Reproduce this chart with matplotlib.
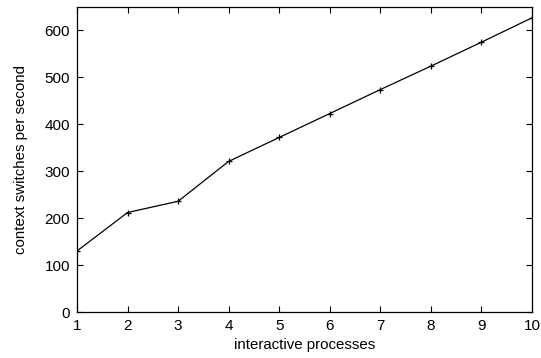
import matplotlib
matplotlib.use("Agg")
import matplotlib.pyplot as plt

plt.rcParams['font.family'] = ['Liberation Sans', 'DejaVu Sans']

processes = [1, 2, 3, 4, 5, 6, 7, 8, 9, 10]
switches = [130, 212, 236, 321, 372, 423, 474, 524, 575, 627]
x_ticks = [1, 2, 3, 4, 5, 6, 7, 8, 9, 10]
y_ticks = [0, 100, 200, 300, 400, 500, 600]

fig = plt.figure(figsize=(5.41, 3.58), dpi=100)
ax = fig.add_axes([77 / 541, 1 - 312 / 358, (532 - 77) / 541, (312 - 7) / 358])

ax.plot(processes, switches, color='black', linewidth=0.9,
        marker='+', markersize=4, markeredgewidth=0.9)

ax.set_xlim(1, 10)
ax.set_ylim(0, 650)
ax.set_xticks(x_ticks)
ax.set_yticks(y_ticks)
ax.tick_params(direction='in', top=True, right=True, length=4, width=0.8,
               labelsize=11, pad=5)
for s in ax.spines.values():
    s.set_linewidth(0.9)

ax.set_xlabel('interactive processes', fontsize=10.8, labelpad=4)
ax.set_ylabel('context switches per second', fontsize=10.8)
ax.yaxis.set_label_coords(-49 / 455, 0.5)

fig.savefig('out.png', dpi=100)
